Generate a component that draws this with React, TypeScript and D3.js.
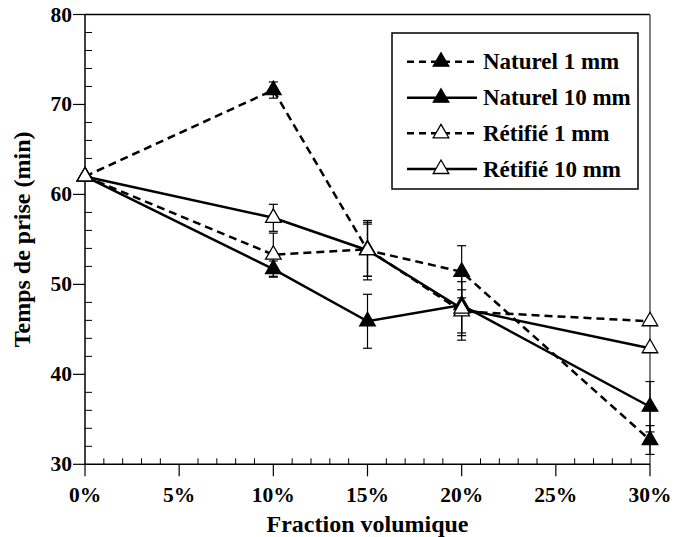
import React from "react";
import * as d3 from "d3";

const fractions = [0, 10, 15, 20, 30];
const naturel1 = [62, 71.6, 53.8, 51.4, 32.7];
const naturel1Err = [0, 0.9, 3.3, 2.9, 1.6];
const naturel10 = [62, 51.7, 45.9, 47.7, 36.4];
const naturel10Err = [0, 0.9, 3.0, 3.9, 2.8];
const retifie1 = [62, 53.3, 53.9, 47.0, 45.9];
const retifie1Err = [0, 2.4, 3.0, 2.4, 0];
const retifie10 = [62, 57.4, 53.8, 47.3, 42.9];
const retifie10Err = [0, 1.5, 2.9, 3.0, 0];

const seriesNames = ["Naturel 1 mm", "Naturel 10 mm", "Rétifié 1 mm", "Rétifié 10 mm"];
const xMajorTicks = [0, 5, 10, 15, 20, 25, 30];
const yMajorTicks = [30, 40, 50, 60, 70, 80];

const W = 675;
const H = 537;
const FONT = '"Liberation Serif"';

const series = [
  { name: seriesNames[0], values: naturel1, err: naturel1Err, dashed: true, filled: true },
  { name: seriesNames[1], values: naturel10, err: naturel10Err, dashed: false, filled: true },
  { name: seriesNames[2], values: retifie1, err: retifie1Err, dashed: true, filled: false },
  { name: seriesNames[3], values: retifie10, err: retifie10Err, dashed: false, filled: false },
];

const txt = (size: number) => ({ fontFamily: FONT, fontSize: size, fontWeight: 700 });

export default function App() {
  const x = d3.scaleLinear().domain([0, 30]).range([85, 650]);
  const y = d3.scaleLinear().domain([30, 80]).range([464.3, 14.5]);
  const line = d3
    .line<[number, number]>()
    .x((d) => x(d[0]))
    .y((d) => y(d[1]));
  const tri = d3.symbol().type(d3.symbolTriangle).size(105)();

  const xMinor = d3.range(0, 31, 1).filter((v) => v % 5 !== 0);
  const yMinor = d3.range(30, 81, 2).filter((v) => v % 10 !== 0);

  const legendX = 392;
  const legendY = 33;
  const rowYs = [61.7, 97.7, 133.3, 169];

  return (
    <svg width={W} height={H} style={{ position: "absolute", left: 0, top: 0, background: "#fff" }}>
      <rect x={0} y={0} width={W} height={H} fill="#fff" />
      {/* frame */}
      <line x1={x(0)} x2={x(30)} y1={y(80)} y2={y(80)} stroke="#000" strokeWidth={1.5} />
      <line x1={x(30)} x2={x(30)} y1={y(80)} y2={y(30)} stroke="#555" strokeWidth={1.5} />
      <line x1={x(0)} x2={x(0)} y1={y(80)} y2={y(30)} stroke="#000" strokeWidth={1.5} />
      <line x1={x(0)} x2={x(30)} y1={y(30)} y2={y(30)} stroke="#000" strokeWidth={1.5} />

      {/* x ticks */}
      {xMajorTicks.map((v) => (
        <g key={"xm" + v}>
          <line x1={x(v)} x2={x(v)} y1={y(30)} y2={y(30) + 12} stroke="#000" strokeWidth={1.2} />
          <text x={x(v)} y={502} textAnchor="middle" style={txt(21.5)}>
            {v + "%"}
          </text>
        </g>
      ))}
      {xMinor.map((v) => (
        <line key={"xn" + v} x1={x(v)} x2={x(v)} y1={y(30)} y2={y(30) - 6} stroke="#000" strokeWidth={1} />
      ))}

      {/* y ticks */}
      {yMajorTicks.map((v) => (
        <g key={"ym" + v}>
          <line x1={x(0) - 12} x2={x(0)} y1={y(v)} y2={y(v)} stroke="#000" strokeWidth={1.2} />
          <text x={72} y={y(v) + 7} textAnchor="end" style={txt(21.5)}>
            {v}
          </text>
        </g>
      ))}
      {yMinor.map((v) => (
        <line key={"yn" + v} x1={x(0)} x2={x(0) + 7} y1={y(v)} y2={y(v)} stroke="#000" strokeWidth={1} />
      ))}

      {/* axis titles */}
      <text x={(x(0) + x(30)) / 2} y={532} textAnchor="middle" style={txt(24)}>
        Fraction volumique
      </text>
      <text
        transform={`translate(30, ${(y(30) + y(80)) / 2}) rotate(-90)`}
        textAnchor="middle"
        style={txt(24)}
      >
        Temps de prise (min)
      </text>

      {/* lines */}
      {series.map((s) => (
        <path
          key={"l" + s.name}
          d={line(fractions.map((f, i) => [f, s.values[i]]) as [number, number][]) || ""}
          fill="none"
          stroke="#000"
          strokeWidth={2.5}
          strokeDasharray={s.dashed ? "8,5" : undefined}
        />
      ))}

      {/* error bars */}
      {series.map((s) =>
        fractions.map((f, i) =>
          s.err[i] > 0 ? (
            <g key={"e" + s.name + f} stroke="#000" strokeWidth={1.2}>
              <line x1={x(f)} x2={x(f)} y1={y(s.values[i] - s.err[i])} y2={y(s.values[i] + s.err[i])} />
              <line x1={x(f) - 4.5} x2={x(f) + 4.5} y1={y(s.values[i] - s.err[i])} y2={y(s.values[i] - s.err[i])} />
              <line x1={x(f) - 4.5} x2={x(f) + 4.5} y1={y(s.values[i] + s.err[i])} y2={y(s.values[i] + s.err[i])} />
            </g>
          ) : null
        )
      )}

      {/* markers */}
      {series.map((s) =>
        fractions.map((f, i) => (
          <path
            key={"m" + s.name + f}
            d={tri || ""}
            transform={`translate(${x(f)}, ${y(s.values[i])})`}
            fill={s.filled ? "#000" : "#fff"}
            stroke="#000"
            strokeWidth={1.3}
          />
        ))
      )}

      {/* legend */}
      <rect x={legendX} y={legendY} width={246} height={156} fill="#fff" stroke="#000" strokeWidth={1.5} />
      {series.map((s, i) => (
        <g key={"lg" + s.name}>
          <line
            x1={407}
            x2={477}
            y1={rowYs[i]}
            y2={rowYs[i]}
            stroke="#000"
            strokeWidth={2.5}
            strokeDasharray={s.dashed ? "7,5" : undefined}
          />
          <path
            d={tri || ""}
            transform={`translate(441, ${rowYs[i]})`}
            fill={s.filled ? "#000" : "#fff"}
            stroke="#000"
            strokeWidth={1.3}
          />
          <text x={483} y={rowYs[i] + 7.5} style={txt(23)}>
            {s.name}
          </text>
        </g>
      ))}
    </svg>
  );
}
